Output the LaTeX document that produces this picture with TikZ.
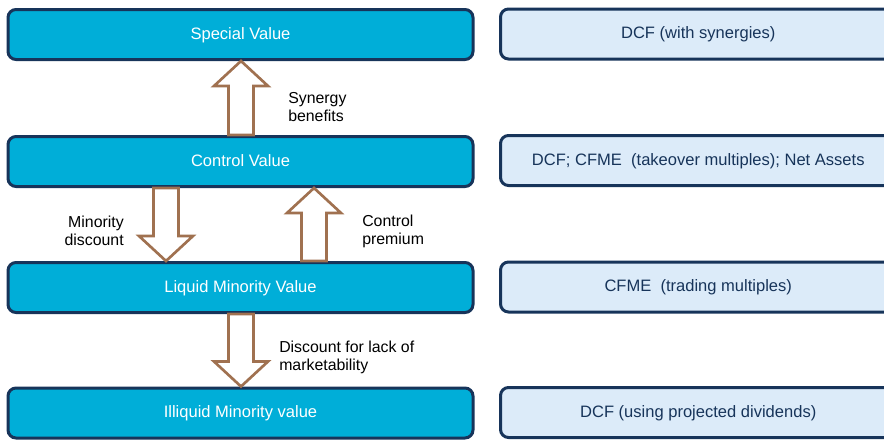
\documentclass[tikz,border=0pt]{standalone}
\usepackage{fontspec}
\setmainfont{Liberation Sans}
\usetikzlibrary{calc}
\definecolor{valblue}{RGB}{0,174,216}
\definecolor{navy}{RGB}{23,52,90}
\definecolor{methfill}{RGB}{220,235,249}
\definecolor{arrowc}{RGB}{160,113,80}
\begin{document}
\begin{tikzpicture}[x=0.75pt, y=-0.75pt,
    valbox/.style={draw=navy, line width=2.25pt, rounded corners=6pt, fill=valblue, text=white,
        minimum width=348.75pt, minimum height=37.5pt, text height=0.716em, text depth=0pt,
        font=\fontsize{12.4}{14}\selectfont},
    methbox/.style={valbox, fill=methfill, text=navy, minimum width=296.6pt},
    fat/.style={draw=arrowc, line width=2pt, fill=white, line join=miter},
    lbl/.style={font=\fontsize{11.9}{13.5}\selectfont, inner sep=0pt}]
            \useasboundingbox (0, 0) rectangle (884, 439);
            % value levels and methods
            \foreach \n/\y/\t in {spec/34.5/Special Value, ctrl/161.5/Control Value,
                liq/287.5/Liquid Minority Value, illiq/413/Illiquid Minority value}
                \node[valbox] (\n) at (240.5, \y) {\t};
            \foreach \n/\y/\t in {specm/34/{DCF (with synergies)},
                ctrlm/160.5/{DCF; CFME\ \ (takeover multiples); Net Assets},
                liqm/287/{CFME\ \ (trading multiples)}, illiqm/412.5/{DCF (using projected dividends)}}
                \node[methbox] (\n) at (698.25, \y) {\t};
            % arrows
            \coordinate (syn0) at (241,0 |- ctrl.north);
            \coordinate (syn1) at (241,0 |- spec.south);
            \coordinate (min0) at (166,0 |- ctrl.south);
            \coordinate (min1) at (166,0 |- liq.north);
            \coordinate (prem0) at (314,0 |- liq.north);
            \coordinate (prem1) at (314,0 |- ctrl.south);
            \coordinate (mkt0) at (241,0 |- liq.south);
            \coordinate (mkt1) at (241,0 |- illiq.north);
            \foreach \b/\t/\s in {syn0/syn1/1, min0/min1/-1, prem0/prem1/1, mkt0/mkt1/-1}
                \draw[fat] ($(\b)+(-12.5,0)$) -- ($(\t)+(-12.5,\s*25)$) -- ($(\t)+(-27,\s*25)$) -- (\t)
                    -- ($(\t)+(27,\s*25)$) -- ($(\t)+(12.5,\s*25)$) -- ($(\b)+(12.5,0)$) -- cycle;
            \node[lbl, anchor=west, align=left] (synlbl) at (288, 107) {Synergy\\benefits};
            \node[lbl, anchor=east, align=right] (minlbl) at (124, 230.5) {Minority\\discount};
            \node[lbl, anchor=west, align=left] (premlbl) at (362, 231.5) {Control\\premium};
            \node[lbl, anchor=west, align=left] (mktlbl) at (279, 357.5) {Discount for lack of\\marketability};
        \end{tikzpicture}
\end{document}
